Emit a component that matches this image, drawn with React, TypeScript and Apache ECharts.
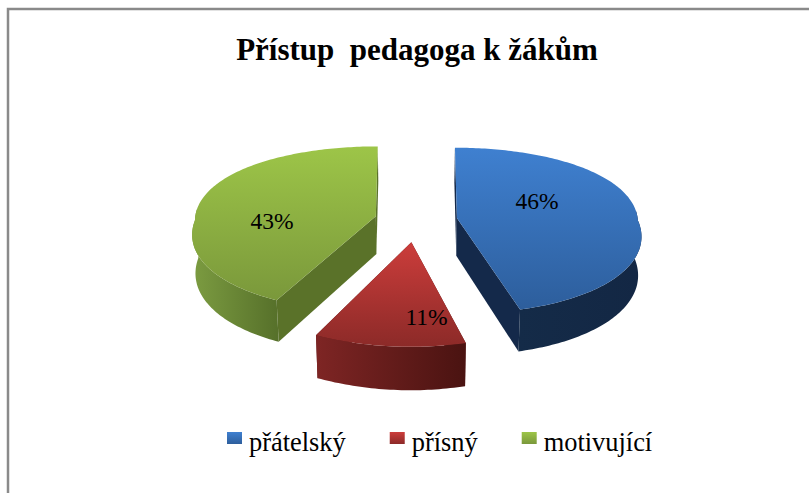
import React, { useEffect, useRef } from "react";
import * as echarts from "echarts";

const TITLE = "Přístup  pedagoga k žákům";
const categories = ["přátelský", "přísný", "motivující"];
const shares = [46, 11, 43];

// colours: [top-face gradient from, to, outer wall from, to, cut wall]
const topFrom = ["#3F80D0", "#CC3D3B", "#9DC548"];
const topTo = ["#2D5E9C", "#8C2A28", "#7A983B"];
const wallFrom = ["#142B48", "#7E2524", "#7C9C41"];
const wallTo = ["#132744", "#4A1311", "#56702A"];
const cutWall = ["#14294A", "#5A1816", "#5A7229"];
// pie layout
const VX = 416;
const VY = 220.3;
const RX = 181;
const RY = 81.5;
const PERSP = 0.15;
const PERSP_H = 0.1;
const PERSP_X_FRONT = 0.185;
const PERSP_X_BACK = 0.05;
const HEIGHT = 38;
const BOTTOM_SHRINK = 0.985;
const explode = [0.228, 0.26, 0.228];
const labelAt = [[537, 201], [426.5, 317], [272, 221]];

const total = shares.reduce((a, b) => a + b, 0);

function project(X: number, Y: number, bottom: boolean): number[] {
  const kd = Y < 0 ? 1 + PERSP_X_FRONT * Math.max(Y, -1) : 1 + PERSP_X_BACK * Y;
  let sx = RX * X / kd;
  let sy = VY - RY * Y / (1 + PERSP * Y);
  if (bottom) {
    sx *= BOTTOM_SHRINK;
    sy += HEIGHT / (1 + PERSP_H * Y);
  }
  return [VX + sx, sy];
}

function grad(horizontal: boolean, a: string, b: string) {
  return new echarts.graphic.LinearGradient(0, 0, horizontal ? 1 : 0, horizontal ? 0 : 1, [
    { offset: 0, color: a },
    { offset: 1, color: b },
  ]);
}

function sliceRange(i: number): number[] {
  const before = shares.slice(0, i).reduce((a, b) => a + b, 0);
  return [(before / total) * 360, ((before + shares[i]) / total) * 360];
}

function renderSlice(i: number) {
  const [a0, a1] = sliceRange(i);
  const mid = ((a0 + a1) / 2) * Math.PI / 180;
  const cx = Math.sin(mid) * explode[i];
  const cy = Math.cos(mid) * explode[i];
  const world: number[][] = [];
  const steps = Math.ceil(a1 - a0);
  for (let s = 0; s <= steps; s++) {
    const t = (a0 + ((a1 - a0) * s) / steps) * Math.PI / 180;
    world.push([cx + Math.sin(t), cy + Math.cos(t), Math.cos(t)]);
  }
  const topArc = world.map((p) => project(p[0], p[1], false));
  const center = project(cx, cy, false);
  const centerB = project(cx, cy, true);
  const first = world[0];
  const last = world[world.length - 1];
  const front = world.filter((p) => p[2] < 0.1);
  const frontTop = front.map((p) => project(p[0], p[1], false));
  const frontBot = front.map((p) => project(p[0], p[1], true)).reverse();

  const poly = (points: number[][], fill: any) => ({ type: "polygon", shape: { points }, style: { fill } });
  return {
    type: "group",
    children: [
      poly([center, project(first[0], first[1], false), project(first[0], first[1], true), centerB], cutWall[i]),
      poly([center, project(last[0], last[1], false), project(last[0], last[1], true), centerB], cutWall[i]),
      poly([...frontTop, ...frontBot], grad(true, wallFrom[i], wallTo[i])),
      poly([center, ...topArc], grad(false, topFrom[i], topTo[i])),
      {
        type: "text",
        z2: 10,
        style: {
          x: labelAt[i][0],
          y: labelAt[i][1],
          text: `${shares[i]}%`,
          fill: "#000000",
          align: "center",
          verticalAlign: "middle",
          font: '23.5px "Liberation Serif"',
        },
      },
    ],
  };
}

export default function App() {
  const ref = useRef<HTMLDivElement>(null);
  useEffect(() => {
    const chart = echarts.init(ref.current!, null, { renderer: "svg" });
    chart.setOption({
      animation: false,
      backgroundColor: "#ffffff",
      title: {
        text: TITLE,
        left: 417,
        top: 34,
        textAlign: "center",
        padding: 0,
        textStyle: { fontFamily: "Liberation Serif", fontWeight: "bold", fontSize: 31, color: "#000000" },
      },
      legend: {
        left: 227,
        top: 429,
        padding: 0,
        itemGap: 44,
        itemWidth: 15,
        itemHeight: 12,
        icon: "rect",
        selectedMode: false,
        formatter: (name: string) => `{a|${name}}`,
        textStyle: {
          rich: {
            a: { fontFamily: "Liberation Serif", fontSize: 26.4, color: "#000000", padding: [8, 0, 0, 2] },
          },
        },
        data: categories.map((name, i) => ({ name, itemStyle: { color: grad(false, topFrom[i], topTo[i]) } })),
      },
      graphic: [
        {
          type: "polyline",
          silent: true,
          shape: { points: [[8, 493], [8, 9], [809, 9]] },
          style: { stroke: "#8A8A8A", lineWidth: 2.5, fill: "none" },
        },
      ],
      series: categories.map((name, i) => ({
        type: "custom",
        name,
        coordinateSystem: "none",
        itemStyle: { color: topFrom[i] },
        data: [shares[i]],
        renderItem: () => renderSlice(i),
      })),
    });
    return () => chart.dispose();
  }, []);
  return <div ref={ref} style={{ position: "fixed", left: 0, top: 0, width: 809, height: 493 }} />;
}
